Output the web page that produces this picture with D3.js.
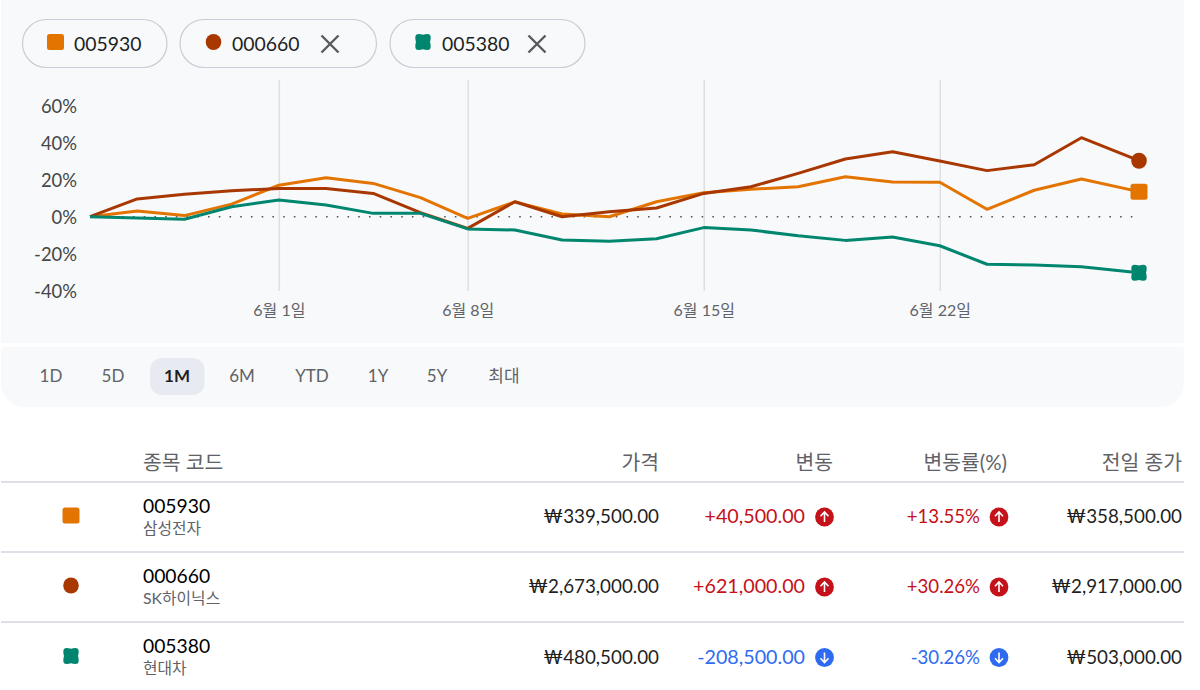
<!DOCTYPE html>
<html lang="ko">
<head>
<meta charset="utf-8">
<title>종목 비교</title>
<script src="https://cdn.jsdelivr.net/npm/d3@7"></script>
<style>
  html, body { margin: 0; padding: 0; background: #fff; overflow: hidden; }
  svg { display: block; }
  text { font-family: Lato, "Noto Sans CJK KR", sans-serif; }
</style>
</head>
<body>
<svg id="chart" width="1200" height="690"></svg>
<script>
// Trading sessions along the x axis; the last one is the live session.
const sessions = [0,1,2,3,4,5,6,7,8,9,10,11,12,13,14,15,16,17,18,19,20,21,22.22];

const samsung = [0,3.1,0.6,6.8,17,21,18,10.3,-0.9,8,1.5,0,8.1,13,14.8,16.2,21.6,18.8,18.6,4,14.3,20.4,13.55];
const hynix   = [0,9.6,12.1,14,15.3,15.3,12.6,2.2,-6.3,8.1,0,2.7,4.7,12.6,16.2,23.4,31.2,35.1,30.1,24.9,28.1,42.7,30.26];
const hyundai = [0,-0.7,-1.4,5.4,9,6.3,1.8,1.8,-6.6,-7.2,-12.6,-13.3,-11.9,-5.9,-7.2,-10.3,-12.8,-11,-15.7,-25.7,-26.1,-27,-30.26];

const codes = ["005930","000660","005380"];
const names = ["삼성전자","SK하이닉스","현대차"];
const colors = ["#e37400","#a83700","#00866f"];
const shapes = ["square","circle","clover"];

const yTicks = [60,40,20,0,-20,-40];
const dateTicks = [4,8,13,18];
const dateLabels = ["6월 1일","6월 8일","6월 15일","6월 22일"];
const ranges = ["1D","5D","1M","6M","YTD","1Y","5Y","최대"];
const activeRange = "1M";

const headers = ["종목 코드","가격","변동","변동률(%)","전일 종가"];
const prices = ["₩339,500.00","₩2,673,000.00","₩480,500.00"];
const changes = ["+40,500.00","+621,000.00","-208,500.00"];
const percents = ["+13.55%","+30.26%","-30.26%"];
const previous = ["₩358,500.00","₩2,917,000.00","₩503,000.00"];

const series = [samsung, hynix, hyundai];

const svg = d3.select("#chart");
const PANEL = "#f8f9fb", INK = "#1f1f1f", MUTED = "#5f6368", RULE = "#d3d5df";
const UP = "#c5111a", DOWN = "#2f6bf0";

const x = d3.scaleLinear().domain([0, 22.22]).range([90, 1139]);
const y = d3.scaleLinear().domain([-40, 60]).range([290.7, 105.7]);

// Background panels: chart card and the range selector strip below it.
svg.append("path").attr("fill", PANEL).attr("d", "M1,0H1184V343H1Z");
svg.append("path").attr("fill", PANEL)
  .attr("d", "M1,351a4,4 0 0 1 4,-4H1180a4,4 0 0 1 4,4V383a24,24 0 0 1 -24,24H25a24,24 0 0 1 -24,-24Z");

// Series marker: rounded square, circle or four-lobed clover.
function marker(sel, shape, color, cx, cy) {
  const g = sel.append("g").attr("transform", `translate(${cx},${cy})`).attr("fill", color);
  if (shape === "square") {
    g.append("rect").attr("x", -8.5).attr("y", -8).attr("width", 17).attr("height", 16).attr("rx", 2.5);
  } else if (shape === "circle") {
    g.append("ellipse").attr("rx", 7.8).attr("ry", 8);
  } else {
    g.append("path").attr("d",
      "M-4.5,-8Q-2,-8 0,-7.2Q2,-8 4.5,-8Q7.7,-8 7.7,-4.5Q7.7,-2 7,0Q7.7,2 7.7,4.5Q7.7,8 4.5,8Q2,8 0,7.2Q-2,8 -4.5,8Q-7.7,8 -7.7,4.5Q-7.7,2 -7,0Q-7.7,-2 -7.7,-4.5Q-7.7,-8 -4.5,-8Z");
  }
}

// Legend chips.
const chipBoxes = [[22,144.5],[179.5,196.5],[389.5,195]];
const chipSwatch = [55.5,213.5,423];
const chipText = [74,232,442];
const chipClose = [null,330,537];
codes.forEach((code, i) => {
  const g = svg.append("g");
  g.append("rect").attr("x", chipBoxes[i][0] + .5).attr("y", 19.5)
    .attr("width", chipBoxes[i][1]).attr("height", 48).attr("rx", 24)
    .attr("fill", "none").attr("stroke", "#c9cbd6").attr("stroke-width", 1.2);
  marker(g, shapes[i], colors[i], chipSwatch[i], 42);
  g.append("text").attr("x", chipText[i]).attr("y", 50.5).attr("font-size", 19.4).attr("fill", INK).text(code);
  if (chipClose[i]) {
    const cx = chipClose[i], cy = 44, r = 8.5;
    g.append("path").attr("d", `M${cx-r},${cy-r}L${cx+r},${cy+r}M${cx+r},${cy-r}L${cx-r},${cy+r}`)
      .attr("stroke", "#5a5a5a").attr("stroke-width", 2.4).attr("fill", "none");
  }
});

// Vertical date gridlines and labels.
const xAxis = d3.axisBottom(x)
  .tickValues(dateTicks)
  .tickFormat((d, i) => dateLabels[i])
  .tickSize(0).tickPadding(0);
const xG = svg.append("g").attr("transform", "translate(0,291)").call(xAxis);
xG.select(".domain").remove();
xG.selectAll("text").attr("y", 19).attr("dy", ".35em").attr("font-size", 16)
  .attr("font-family", null).attr("fill", MUTED);
xG.selectAll(".tick").append("line").attr("y1", 0).attr("y2", -211)
  .attr("stroke", "#dcdfe5").attr("stroke-width", 1.5);

// Percentage axis.
const yAxis = d3.axisLeft(y)
  .tickValues(yTicks).tickFormat(d => `${d}%`)
  .tickSize(0).tickPadding(0);
const yG = svg.append("g").attr("transform", "translate(77,0.5)").call(yAxis);
yG.select(".domain").remove();
yG.selectAll("text").attr("font-size", 18.4).attr("font-family", null).attr("fill", "#444746");

// Dotted baseline at 0%.
svg.append("line").attr("x1", x(0)).attr("x2", x(22.22) - 2).attr("y1", y(0)).attr("y2", y(0))
  .attr("stroke", "#555").attr("stroke-width", 1.6)
  .attr("stroke-dasharray", "1.6 9.13");

// Performance lines with their end markers.
const line = d3.line().x((d, i) => x(sessions[i])).y(d => y(d));
series.forEach((vals, i) => {
  svg.append("path").datum(vals).attr("d", line).attr("fill", "none")
    .attr("stroke", colors[i]).attr("stroke-width", 3).attr("stroke-linejoin", "round");
});
series.forEach((vals, i) => {
  marker(svg, shapes[i], colors[i], x(sessions[sessions.length - 1]), y(vals[vals.length - 1]));
});

// Range selector.
const rangeX = [51,113,177,242,312,378,437,504];
svg.append("rect").attr("x", 150).attr("y", 358).attr("width", 54.5).attr("height", 37).attr("rx", 12).attr("fill", "#e8eaf2");
ranges.forEach((r, i) => {
  const on = r === activeRange;
  svg.append("text").attr("x", rangeX[i]).attr("y", 376.5).attr("dy", ".35em")
    .attr("text-anchor", "middle").attr("font-size", 17)
    .attr("font-weight", on ? 700 : 400).attr("fill", on ? INK : MUTED).text(r);
});

// Table header and row rules.
const columnRight = [null,659,833,1007,1182];
headers.forEach((h, i) => {
  svg.append("text")
    .attr("x", i === 0 ? 143 : columnRight[i]).attr("y", 462.5).attr("dy", ".35em")
    .attr("text-anchor", i === 0 ? "start" : "end")
    .attr("font-size", 20.4).attr("fill", MUTED).text(h);
});
[482,552,622].forEach(ly => {
  svg.append("line").attr("x1", 1).attr("x2", 1184).attr("y1", ly).attr("y2", ly)
    .attr("stroke", RULE).attr("stroke-width", 1.6);
});

// Arrow badge that follows each signed value.
function badge(cx, cy, up) {
  const g = svg.append("g").attr("transform", `translate(${cx},${cy})`);
  g.append("circle").attr("r", 9.4).attr("fill", up ? UP : DOWN);
  const d = up ? "M0,5V-5M-4,-0.8L0,-5L4,-0.8" : "M0,-5V5M-4,0.8L0,5L4,0.8";
  g.append("path").attr("d", d).attr("fill", "none").attr("stroke", "#fff").attr("stroke-width", 1.6);
}

// Table rows.
const rowTop = [482,552,622.5];
codes.forEach((code, i) => {
  const t = rowTop[i];
  marker(svg, shapes[i], colors[i], 71, t + 33.5);
  svg.append("text").attr("x", 143).attr("y", t + 24).attr("dy", ".35em").attr("font-size", 19.3).attr("fill", "#000").text(code);
  svg.append("text").attr("x", 143).attr("y", t + 46).attr("dy", ".35em").attr("font-size", 15.8).attr("fill", MUTED).text(names[i]);
  const up = changes[i][0] === "+";
  const tone = up ? UP : DOWN;
  const cell = (rx, s, fill, size) => svg.append("text").attr("x", rx).attr("y", t + 34.5).attr("dy", ".35em")
    .attr("text-anchor", "end").attr("font-size", size).attr("fill", fill).text(s);
  cell(659, prices[i], INK, 18.8);
  cell(805, changes[i], tone, 19.7);
  cell(980, percents[i], tone, 18.6);
  cell(1182, previous[i], INK, 18.8);
  badge(824.5, t + 35, up);
  badge(999, t + 35, up);
});
</script>
</body>
</html>
